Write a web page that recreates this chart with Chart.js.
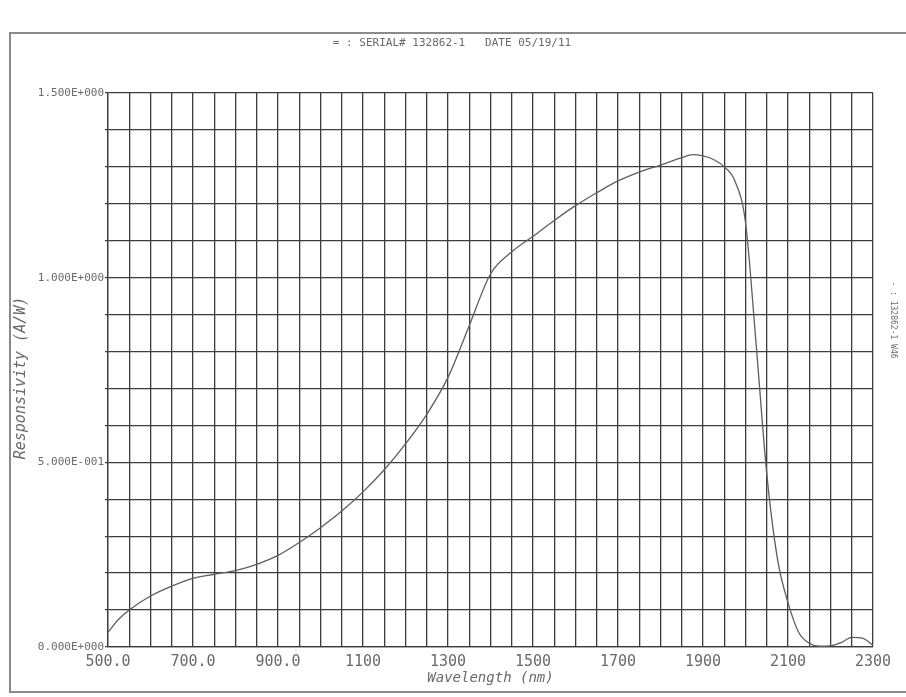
<!DOCTYPE html>
<html>
<head>
<meta charset="utf-8">
<script src="https://cdn.jsdelivr.net/npm/chart.js@4/dist/chart.umd.min.js"></script>
<style>
  html, body { margin: 0; padding: 0; background: #ffffff; }
  #wrap { width: 906px; height: 697px; position: relative; }
</style>
</head>
<body>
<div id="wrap"><canvas id="c" width="906" height="697"></canvas></div>
<script>
// Spectral responsivity of the detector, wavelength in nm, responsivity in A/W
const wavelengths = [500, 525, 550, 600, 650, 700, 750, 800, 850, 900, 950, 1000, 1050, 1100,
  1150, 1200, 1250, 1300, 1350, 1400, 1450, 1500, 1550, 1600, 1650, 1700, 1750, 1800, 1850,
  1875, 1900, 1925, 1950, 1975, 2000, 2025, 2050, 2075, 2100, 2125, 2150, 2175, 2200, 2225,
  2250, 2275, 2300];
const responsivity = [0.040, 0.075, 0.100, 0.138, 0.165, 0.186, 0.197, 0.207, 0.224, 0.248,
  0.283, 0.323, 0.368, 0.420, 0.480, 0.550, 0.630, 0.730, 0.870, 1.010, 1.070, 1.112, 1.155,
  1.195, 1.230, 1.262, 1.286, 1.305, 1.325, 1.333, 1.330, 1.320, 1.300, 1.262, 1.150, 0.820,
  0.470, 0.240, 0.120, 0.040, 0.010, 0.002, 0.003, 0.012, 0.026, 0.024, 0.005];

const xTickValues = [500, 700, 900, 1100, 1300, 1500, 1700, 1900, 2100, 2300];
const xTickLabels = ['500.0', '700.0', '900.0', '1100', '1300', '1500', '1700', '1900', '2100', '2300'];
const yTickValues = [0, 0.5, 1.0, 1.5];
const yTickLabels = ['0.000E+000', '5.000E-001', '1.000E+000', '1.500E+000'];

const headerText = '= : SERIAL# 132862-1   DATE 05/19/11';
const sideText = '- : 132862-1 W46';

const MONO = '"DejaVu Sans Mono", "Liberation Mono", monospace';
const INK = '#6a6a6a';
const GRID = '#3c3c3c';

// Page frame, header line and axis captions
const decorations = {
  id: 'decorations',
  beforeDraw(chart) {
    const ctx = chart.ctx;
    ctx.save();
    ctx.fillStyle = '#ffffff';
    ctx.fillRect(0, 0, chart.width, chart.height);
    ctx.strokeStyle = '#8a8a8a';
    ctx.lineWidth = 2;
    ctx.beginPath();
    ctx.moveTo(906, 33);
    ctx.lineTo(10, 33);
    ctx.lineTo(10, 692);
    ctx.lineTo(906, 692);
    ctx.stroke();
    ctx.restore();
  },
  afterDraw(chart) {
    const ctx = chart.ctx;
    const area = chart.chartArea;
    ctx.save();
    ctx.fillStyle = INK;
    ctx.textBaseline = 'middle';
    ctx.textAlign = 'center';
    ctx.font = '11px ' + MONO;
    ctx.fillText(headerText, 452, 43);

    ctx.font = 'italic 14px ' + MONO;
    ctx.fillText('Wavelength (nm)', (area.left + area.right) / 2, 678);

    ctx.save();
    ctx.translate(21, (area.top + area.bottom) / 2 + 8);
    ctx.rotate(-Math.PI / 2);
    ctx.font = 'italic 15px ' + MONO;
    ctx.fillText('Responsivity (A/W)', 0, 0);
    ctx.restore();

    ctx.save();
    ctx.translate(893, 320);
    ctx.rotate(Math.PI / 2);
    ctx.font = '8px ' + MONO;
    ctx.fillText(sideText, 0, 0);
    ctx.restore();
    ctx.restore();
  }
};

const chart = new Chart(document.getElementById('c'), {
  type: 'line',
  data: {
    datasets: [{
      data: wavelengths.map((w, i) => ({ x: w, y: responsivity[i] })),
      borderColor: '#5e5e5e',
      borderWidth: 1.3,
      pointRadius: 0,
      cubicInterpolationMode: 'monotone',
      fill: false
    }]
  },
  options: {
    responsive: false,
    animation: false,
    layout: { padding: { left: 0, top: 93, right: 33, bottom: 0 } },
    plugins: { legend: { display: false }, tooltip: { enabled: false }, title: { display: false } },
    scales: {
      x: {
        type: 'linear',
        min: 500,
        max: 2300,
        afterFit(scale) { scale.height = 50; },
        grid: { color: GRID, lineWidth: 1.3, drawTicks: false },
        border: { color: GRID, width: 1.3 },
        ticks: {
          stepSize: 50,
          autoSkip: false,
          maxRotation: 0,
          padding: 6,
          color: INK,
          font: { family: MONO, size: 15 },
          callback(v) {
            const i = xTickValues.indexOf(Math.round(v));
            return i >= 0 ? xTickLabels[i] : '';
          }
        }
      },
      y: {
        min: 0,
        max: 1.5,
        afterFit(scale) { scale.width = 108; },
        grid: { color: GRID, lineWidth: 1.3, drawTicks: true, tickLength: 3 },
        border: { color: GRID, width: 1.3 },
        ticks: {
          stepSize: 0.1,
          autoSkip: false,
          padding: 1,
          color: INK,
          font: { family: MONO, size: 11 },
          callback(v) {
            const i = yTickValues.findIndex(t => Math.abs(t - v) < 1e-6);
            return i >= 0 ? yTickLabels[i] : '';
          }
        }
      }
    }
  },
  plugins: [decorations]
});
</script>
</body>
</html>
